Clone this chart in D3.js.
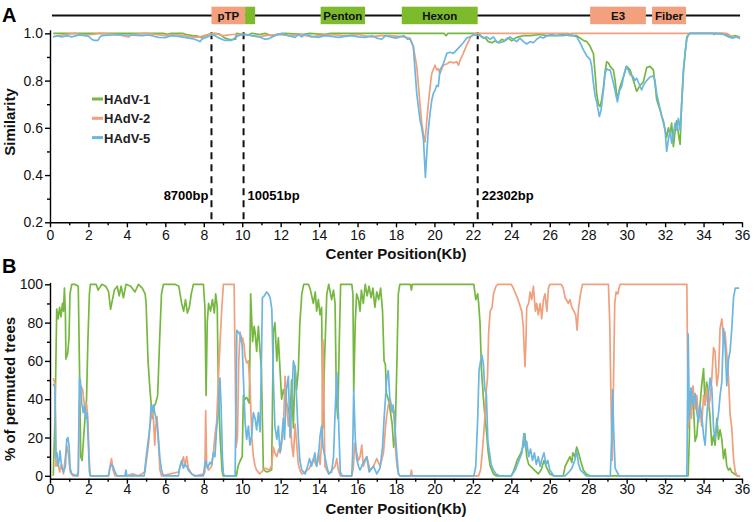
<!DOCTYPE html>
<html>
<head>
<meta charset="utf-8">
<script src="https://cdn.jsdelivr.net/npm/d3@7"></script>
<style>
  body { margin: 0; background: #fff; }
  svg text { font-family: "Liberation Sans", Arial, sans-serif; }
  .axis path, .axis line { stroke: #000; stroke-width: 1.4; }
  .axis text { font-size: 14px; fill: #111; }
</style>
</head>
<body>
<div id="chart"></div>
<script>
// ---- data ----
const seriesNames = ["HAdV-1", "HAdV-2", "HAdV-5"];

// genome map (kb)
const genomeSpan = [0.1, 35.9];
const geneLabels = ["pTP", "", "Penton", "Hexon", "E3", "Fiber"];
const geneStart = [8.4, 10.15, 14.08, 18.3, 28.1, 31.32];
const geneEnd = [10.15, 10.67, 16.39, 22.25, 31.0, 33.09];
const geneGroup = [1, 0, 0, 0, 1, 1]; // 0 = HAdV-1 like, 1 = HAdV-2 like

// breakpoints
const bpPos = [8.4, 10.07, 22.25];
const bpLabels = ["8700bp", "10051bp", "22302bp"];

const xTicks = d3.range(0, 37, 2);
const yTicksA = [0.2, 0.4, 0.6, 0.8, 1.0];
const yTicksB = [0, 20, 40, 60, 80, 100];

// panel A: similarity [kb, value]
const simH1 = [[0.17,1.0],[1.0,1.0],[2.0,1.0],[3.0,1.0],[4.0,1.0],[5.0,1.0],[5.9,1.0],[6.1,0.996],[6.3,1.0],[6.9,1.0],[7.1,0.995],[7.4,0.99],[7.7,0.988],[7.9,0.982],[8.1,0.99],[8.4,1.0],[8.8,0.998],[9.1,0.98],[9.4,0.973],[9.65,0.975],[9.7,1.0],[10.3,0.993],[10.5,1.0],[10.9,0.995],[11.2,1.0],[11.5,0.99],[11.8,0.996],[12.2,1.0],[13.2,0.996],[13.5,1.0],[14.3,0.996],[14.6,1.0],[16.0,1.0],[17.5,1.0],[18.5,1.0],[20.5,1.0],[20.6,0.99],[20.7,1.0],[22.3,1.0],[22.45,0.985],[22.65,0.98],[22.8,0.965],[23.0,0.96],[23.15,0.968],[23.33,0.96],[23.5,0.975],[23.67,0.968],[23.85,0.98],[24.02,0.968],[24.2,0.98],[24.37,0.985],[24.6,0.99],[25.0,0.99],[25.5,0.995],[25.85,0.99],[26.3,0.99],[26.7,0.995],[27.05,0.99],[27.4,0.99],[27.75,0.97],[27.92,0.965],[28.1,0.945],[28.18,0.93],[28.27,0.915],[28.36,0.83],[28.44,0.745],[28.53,0.70],[28.62,0.69],[28.7,0.72],[28.79,0.77],[28.88,0.84],[28.96,0.88],[29.05,0.875],[29.14,0.86],[29.31,0.845],[29.4,0.8],[29.49,0.73],[29.57,0.745],[29.66,0.775],[29.83,0.815],[30.0,0.86],[30.18,0.845],[30.35,0.8],[30.52,0.755],[30.7,0.78],[30.87,0.795],[31.04,0.855],[31.21,0.86],[31.39,0.845],[31.47,0.79],[31.56,0.72],[31.74,0.675],[31.82,0.65],[31.91,0.63],[32.0,0.59],[32.08,0.56],[32.17,0.6],[32.26,0.575],[32.34,0.62],[32.43,0.52],[32.52,0.585],[32.6,0.63],[32.69,0.575],[32.78,0.53],[32.86,0.7],[32.95,0.83],[33.04,0.915],[33.13,0.985],[33.3,1.0],[34.0,1.0],[35.0,1.0],[35.2,0.995],[35.4,0.985],[35.6,0.99],[35.9,0.985]];

const simH2 = [[0.17,0.985],[0.4,0.99],[0.8,0.995],[1.3,1.0],[1.6,0.993],[2.2,0.995],[2.6,1.0],[3.5,0.995],[4.07,0.985],[4.3,0.995],[5.0,1.0],[5.5,0.995],[6.0,0.99],[6.5,0.995],[7.0,0.99],[7.5,0.983],[7.8,0.985],[8.2,0.995],[8.6,1.0],[9.0,0.99],[9.5,0.995],[10.2,0.995],[10.8,0.985],[11.2,0.99],[11.8,0.995],[12.5,0.99],[13.0,0.995],[13.6,0.985],[14.0,0.99],[14.6,0.995],[15.3,0.99],[16.0,0.995],[16.7,0.985],[17.2,0.99],[17.7,0.99],[18.4,0.985],[18.73,0.98],[18.9,0.945],[19.08,0.86],[19.25,0.70],[19.34,0.62],[19.43,0.57],[19.51,0.54],[19.6,0.63],[19.68,0.70],[19.77,0.77],[19.86,0.83],[20.03,0.865],[20.12,0.845],[20.2,0.85],[20.29,0.83],[20.46,0.865],[20.64,0.87],[20.81,0.88],[20.99,0.875],[21.16,0.88],[21.25,0.865],[21.33,0.885],[21.5,0.915],[21.68,0.95],[21.85,0.98],[22.0,0.995],[22.2,1.0],[27.0,1.0],[27.02,0.99],[27.1,1.0],[35.2,1.0],[35.4,0.99],[35.6,0.985],[35.9,0.985]];

const simH5 = [[0.17,0.985],[0.35,0.99],[0.6,0.985],[0.9,0.99],[1.13,0.985],[1.5,0.993],[1.82,0.99],[2.0,0.988],[2.17,0.975],[2.3,0.97],[2.5,0.97],[2.6,0.985],[2.7,0.99],[3.2,0.993],[4.0,0.993],[4.8,0.99],[5.1,0.993],[5.3,0.99],[5.64,0.983],[6.0,0.982],[6.3,0.99],[6.68,0.987],[7.0,0.983],[7.37,0.978],[7.63,0.972],[7.8,0.965],[7.9,0.975],[8.06,0.98],[8.25,0.987],[8.41,0.993],[8.6,0.99],[8.75,0.982],[9.1,0.97],[9.45,0.97],[9.6,0.98],[9.8,0.99],[10.15,0.996],[10.5,0.99],[10.84,0.987],[11.19,0.975],[11.4,0.978],[11.7,0.99],[12.05,1.0],[12.4,0.99],[12.75,0.983],[12.92,0.995],[13.1,0.985],[13.27,0.997],[13.6,0.987],[13.96,0.983],[14.3,0.99],[14.65,0.987],[15.0,0.983],[15.35,0.987],[15.7,0.99],[16.04,0.985],[16.4,0.983],[16.74,0.99],[17.0,0.98],[17.26,0.975],[17.45,0.99],[17.7,0.985],[18.0,0.98],[18.2,0.985],[18.4,0.99],[18.6,0.975],[18.73,0.975],[18.9,0.945],[18.99,0.845],[19.08,0.745],[19.25,0.633],[19.34,0.6],[19.43,0.55],[19.53,0.39],[19.6,0.49],[19.68,0.59],[19.77,0.66],[19.86,0.717],[19.94,0.745],[20.03,0.76],[20.12,0.78],[20.2,0.775],[20.29,0.845],[20.46,0.87],[20.64,0.915],[20.81,0.92],[20.99,0.915],[21.16,0.93],[21.33,0.945],[21.5,0.96],[21.68,0.98],[21.85,0.985],[22.0,0.992],[22.2,0.992],[22.4,0.99],[22.55,0.98],[22.72,0.985],[22.9,0.975],[23.07,0.985],[23.24,0.965],[23.41,0.96],[23.59,0.965],[23.76,0.978],[23.93,0.985],[24.1,0.975],[24.28,0.965],[24.45,0.98],[24.63,0.965],[24.8,0.955],[24.98,0.965],[25.15,0.96],[25.32,0.975],[25.5,0.985],[25.67,0.98],[25.85,0.99],[26.1,0.995],[26.36,0.99],[26.7,0.99],[27.05,0.995],[27.4,0.985],[27.58,0.96],[27.75,0.93],[27.92,0.905],[28.1,0.89],[28.18,0.86],[28.27,0.79],[28.36,0.735],[28.44,0.71],[28.58,0.648],[28.67,0.675],[28.79,0.76],[28.88,0.83],[28.96,0.85],[29.05,0.845],[29.14,0.845],[29.22,0.82],[29.31,0.79],[29.45,0.735],[29.52,0.71],[29.62,0.755],[29.74,0.775],[29.83,0.815],[29.97,0.86],[30.09,0.845],[30.18,0.825],[30.35,0.815],[30.43,0.8],[30.52,0.81],[30.7,0.775],[30.78,0.76],[30.87,0.78],[31.04,0.8],[31.21,0.815],[31.39,0.82],[31.47,0.8],[31.56,0.745],[31.74,0.68],[31.91,0.62],[32.0,0.59],[32.08,0.5],[32.17,0.55],[32.26,0.59],[32.34,0.535],[32.43,0.575],[32.52,0.62],[32.6,0.59],[32.69,0.64],[32.78,0.59],[32.86,0.7],[32.95,0.845],[33.04,0.915],[33.13,0.975],[33.22,0.997],[33.3,1.0],[34.0,1.0],[34.5,1.0],[34.55,0.995],[34.6,1.0],[35.05,0.995],[35.3,0.985],[35.5,0.98],[35.7,0.985],[35.9,0.978]];

// panel B: % of permuted trees [kb, value]
const bootH1 = [[0.17,0],[0.26,30],[0.35,87],[0.42,82],[0.5,88],[0.57,83],[0.65,90],[0.7,86],[0.75,98],[0.8,85],[0.83,61],[0.92,64],[0.99,72],[1.04,95],[1.13,100],[1.3,100],[1.47,99],[1.53,60],[1.6,10],[1.67,8],[1.75,20],[1.82,30],[1.9,40],[1.97,70],[2.05,95],[2.1,100],[2.4,100],[2.5,97],[2.7,100],[2.9,99],[3.05,96],[3.15,87],[3.25,92],[3.35,97],[3.5,99],[3.6,94],[3.7,99],[3.82,93],[3.95,100],[4.2,99],[4.42,96],[4.6,100],[4.8,98],[4.95,95],[5.0,90],[5.1,60],[5.2,45],[5.26,38],[5.32,30],[5.4,36],[5.5,38],[5.6,42],[5.7,70],[5.8,95],[5.9,100],[6.5,100],[6.7,99],[6.85,90],[6.95,86],[7.05,92],[7.15,85],[7.25,88],[7.35,95],[7.46,100],[7.98,100],[8.06,88],[8.12,42],[8.18,80],[8.25,90],[8.35,86],[8.45,92],[8.55,85],[8.62,95],[8.7,88],[8.76,45],[8.85,20],[8.95,3],[9.0,0],[9.7,0],[9.78,5],[9.9,8],[10.0,10],[10.06,42],[10.15,40],[10.23,41],[10.37,38],[10.44,95],[10.54,70],[10.62,78],[10.67,75],[10.75,65],[10.84,78],[10.93,65],[11.0,55],[11.1,3],[11.3,2],[11.53,3],[11.62,75],[11.7,80],[11.8,60],[11.88,72],[11.97,55],[12.05,40],[12.14,45],[12.3,38],[12.4,35],[12.49,30],[12.57,50],[12.66,25],[12.75,57],[12.83,45],[12.92,55],[13.0,80],[13.1,95],[13.2,100],[13.45,100],[13.55,97],[13.7,90],[13.8,96],[13.87,86],[13.96,92],[14.05,84],[14.13,88],[14.2,25],[14.28,60],[14.4,95],[14.5,100],[14.65,92],[14.75,97],[14.83,90],[14.9,40],[14.97,30],[15.05,70],[15.12,100],[15.7,100],[15.76,95],[15.8,44],[15.88,80],[15.95,95],[16.05,92],[16.13,86],[16.2,97],[16.3,90],[16.4,100],[16.5,94],[16.6,99],[16.7,93],[16.8,98],[16.9,88],[17.0,96],[17.1,92],[17.2,98],[17.3,86],[17.38,60],[17.45,58],[17.5,43],[17.6,40],[17.7,34],[17.8,27],[17.88,15],[17.95,20],[18.05,60],[18.12,95],[18.2,100],[18.75,100],[18.8,97],[18.85,100],[22.05,100],[22.15,92],[22.25,95],[22.3,90],[22.37,80],[22.45,55],[22.55,40],[22.62,32],[22.7,24],[22.8,12],[22.9,5],[23.07,1],[23.2,0],[24.0,0],[24.1,2],[24.3,8],[24.5,12],[24.6,15],[24.7,22],[24.8,10],[24.9,6],[25.0,5],[25.2,3],[25.4,1],[25.55,3],[25.7,8],[25.85,4],[26.0,1],[26.2,0],[26.7,0],[26.8,5],[26.95,8],[27.05,10],[27.15,7],[27.2,12],[27.3,10],[27.4,15],[27.5,12],[27.6,8],[27.75,3],[27.9,1],[28.1,0],[33.2,0],[33.26,20],[33.3,44],[33.37,35],[33.45,42],[33.56,18],[33.65,21],[33.74,33],[33.82,37],[33.9,47],[34.0,56],[34.08,37],[34.16,49],[34.25,42],[34.34,30],[34.43,16],[34.52,21],[34.6,16],[34.69,30],[34.78,19],[34.86,24],[34.95,19],[35.04,9],[35.12,14],[35.21,5],[35.3,3],[35.38,4],[35.47,2],[35.6,1],[35.75,0],[35.9,0]];

const bootH2 = [[0.17,51],[0.26,48],[0.31,5],[0.4,8],[0.5,2],[0.6,6],[0.7,1],[0.87,16],[0.95,12],[1.05,2],[1.2,0],[1.47,0],[1.53,36],[1.6,47],[1.7,45],[1.75,40],[1.82,36],[1.9,38],[1.97,30],[2.03,10],[2.1,0],[3.05,0],[3.12,5],[3.2,9],[3.28,3],[3.38,0],[4.0,0],[4.3,1],[4.6,0],[4.94,2],[5.03,9],[5.12,16],[5.2,26],[5.3,35],[5.38,30],[5.45,16],[5.5,26],[5.57,31],[5.63,19],[5.72,3],[5.8,0],[6.68,2],[6.85,7],[6.94,10],[7.02,5],[7.11,10],[7.2,4],[7.37,1],[7.6,0],[8.0,1],[8.06,2],[8.1,34],[8.15,5],[8.25,3],[8.41,5],[8.5,12],[8.58,21],[8.67,28],[8.76,51],[8.84,68],[8.93,86],[9.02,100],[9.58,100],[9.63,60],[9.68,15],[9.75,20],[9.82,60],[9.89,75],[9.95,70],[10.02,72],[10.1,68],[10.15,62],[10.23,59],[10.32,60],[10.4,48],[10.5,20],[10.58,10],[10.67,5],[10.75,3],[10.9,1],[11.0,2],[11.2,4],[11.4,3],[11.53,5],[11.62,15],[11.7,12],[11.8,10],[11.9,14],[12.0,13],[12.14,24],[12.23,52],[12.3,40],[12.4,26],[12.49,34],[12.57,17],[12.66,10],[12.75,27],[12.83,17],[12.92,6],[13.0,3],[13.1,1],[13.27,2],[13.5,4],[13.7,9],[13.87,5],[13.96,12],[14.05,6],[14.15,20],[14.2,71],[14.25,40],[14.3,5],[14.5,1],[14.83,5],[14.92,9],[15.0,3],[15.1,0],[15.7,0],[15.78,4],[15.85,17],[15.95,12],[16.05,8],[16.13,10],[16.22,16],[16.3,5],[16.48,10],[16.65,3],[16.83,5],[17.0,9],[17.17,5],[17.35,12],[17.45,25],[17.5,30],[17.6,37],[17.7,40],[17.8,33],[17.9,34],[17.97,15],[18.05,5],[18.13,1],[18.2,0],[18.75,0],[18.8,3],[18.85,0],[22.3,0],[22.4,3],[22.47,10],[22.55,20],[22.62,30],[22.7,45],[22.76,51],[22.82,75],[22.9,86],[23.0,88],[23.07,95],[23.2,99],[23.3,100],[24.0,100],[24.1,98],[24.19,96],[24.35,92],[24.54,86],[24.62,78],[24.71,57],[24.76,70],[24.8,88],[24.9,90],[24.98,96],[25.06,92],[25.15,99],[25.25,86],[25.32,90],[25.4,84],[25.5,90],[25.58,82],[25.67,92],[25.75,95],[25.85,86],[25.93,98],[26.0,100],[26.6,100],[26.7,98],[26.8,93],[26.97,90],[27.05,92],[27.15,88],[27.25,86],[27.35,84],[27.42,76],[27.5,88],[27.6,95],[27.7,100],[29.05,100],[29.12,80],[29.2,30],[29.25,8],[29.3,40],[29.38,90],[29.45,96],[29.55,95],[29.6,98],[29.66,100],[33.13,100],[33.2,25],[33.3,37],[33.37,30],[33.45,47],[33.56,35],[33.65,42],[33.74,30],[33.82,35],[33.9,26],[34.0,42],[34.08,37],[34.16,46],[34.25,35],[34.34,40],[34.43,51],[34.52,67],[34.6,65],[34.69,47],[34.78,54],[34.86,77],[34.95,82],[35.04,72],[35.12,75],[35.21,63],[35.3,51],[35.38,32],[35.47,25],[35.56,9],[35.65,2],[35.75,0],[35.9,0]];

const bootH5 = [[0.17,48],[0.26,46],[0.31,10],[0.36,12],[0.42,5],[0.47,8],[0.52,13],[0.6,5],[0.7,2],[0.8,5],[0.87,19],[0.93,20],[0.99,16],[1.05,4],[1.13,1],[1.39,0],[1.47,2],[1.53,51],[1.58,50],[1.65,38],[1.73,33],[1.79,37],[1.86,30],[1.92,33],[2.0,16],[2.05,2],[2.1,0],[3.03,0],[3.12,4],[3.2,6],[3.28,5],[3.38,2],[3.5,0],[3.9,0],[3.95,3],[4.0,0],[4.9,0],[4.94,4],[5.03,12],[5.12,19],[5.2,26],[5.26,37],[5.32,34],[5.38,37],[5.45,33],[5.55,28],[5.63,21],[5.72,9],[5.8,3],[5.9,0],[6.68,0],[6.76,5],[6.85,8],[6.94,4],[7.02,6],[7.11,5],[7.2,3],[7.37,1],[7.5,0],[7.98,0],[8.04,5],[8.1,8],[8.2,4],[8.32,7],[8.41,6],[8.5,12],[8.58,10],[8.67,25],[8.76,33],[8.84,51],[8.9,37],[8.97,10],[9.02,1],[9.1,0],[9.63,0],[9.68,40],[9.72,76],[9.8,75],[9.93,73],[10.0,68],[10.06,51],[10.15,28],[10.23,19],[10.32,26],[10.4,16],[10.49,21],[10.58,33],[10.67,30],[10.75,24],[10.84,33],[10.93,23],[11.0,60],[11.05,93],[11.15,94],[11.27,96],[11.36,95],[11.45,93],[11.54,87],[11.62,51],[11.7,26],[11.8,19],[11.88,26],[11.97,12],[12.05,19],[12.14,30],[12.2,19],[12.3,45],[12.4,52],[12.49,20],[12.57,36],[12.66,60],[12.75,57],[12.83,40],[12.92,20],[13.0,8],[13.1,3],[13.2,2],[13.27,1],[13.4,5],[13.5,9],[13.6,5],[13.7,8],[13.78,12],[13.87,5],[13.96,9],[14.05,21],[14.13,26],[14.2,15],[14.3,10],[14.4,5],[14.5,1],[14.65,2],[14.75,10],[14.83,33],[14.92,54],[15.0,33],[15.1,2],[15.2,0],[15.7,0],[15.74,10],[15.8,45],[15.88,20],[15.95,9],[16.05,5],[16.13,3],[16.3,7],[16.48,10],[16.6,2],[16.83,5],[17.0,1],[17.17,4],[17.3,15],[17.38,30],[17.45,40],[17.52,51],[17.6,55],[17.68,40],[17.78,34],[17.85,37],[17.95,25],[18.05,10],[18.13,1],[18.2,0],[22.05,0],[22.15,5],[22.25,30],[22.32,55],[22.4,60],[22.47,63],[22.55,58],[22.62,45],[22.7,43],[22.78,18],[22.85,13],[22.95,6],[23.07,3],[23.2,1],[23.4,0],[24.0,0],[24.2,3],[24.4,8],[24.55,12],[24.65,22],[24.72,15],[24.8,18],[24.9,10],[25.0,14],[25.1,8],[25.2,12],[25.3,6],[25.4,10],[25.5,5],[25.6,9],[25.7,12],[25.8,6],[25.9,8],[26.0,3],[26.2,0],[26.8,0],[27.0,2],[27.15,4],[27.3,8],[27.4,13],[27.5,6],[27.6,3],[27.8,1],[27.9,0],[29.15,0],[29.22,20],[29.27,45],[29.32,25],[29.4,4],[29.5,2],[29.6,0],[33.13,0],[33.2,74],[33.26,30],[33.35,46],[33.45,37],[33.56,43],[33.65,33],[33.74,28],[33.82,37],[33.9,32],[34.0,21],[34.08,16],[34.16,30],[34.25,42],[34.34,51],[34.43,46],[34.52,25],[34.6,19],[34.69,26],[34.78,33],[34.86,42],[34.95,49],[35.04,77],[35.12,68],[35.21,47],[35.3,61],[35.38,65],[35.47,77],[35.56,93],[35.65,98],[35.75,98],[35.85,98]];

// ---- drawing ----
const colors = ["#76b83f", "#f0a07c", "#6cb6e2"];
const boxColors = ["#7dbb2c", "#f2a07e"];

const svg = d3.select("#chart").append("svg")
    .attr("width", 754)
    .attr("height", 522);

const x = d3.scaleLinear().domain([0, 36]).range([50, 742]);
const yA = d3.scaleLinear().domain([0.2, 1.015]).range([222.3, 29.8]);
const yB = d3.scaleLinear().domain([-1.5, 101]).range([478.7, 282.4]);

const oddTicks = d3.range(1, 36, 2);

function drawAxes(y, majors, minors, fmt, xPad) {
    const xAxis = svg.append("g")
        .attr("class", "axis")
        .attr("transform", "translate(0," + y.range()[0] + ")");
    xAxis.call(d3.axisBottom(x).tickValues(xTicks).tickSize(5).tickSizeOuter(0)
        .tickPadding(xPad).tickFormat(d3.format("d")));
    xAxis.append("g").call(d3.axisBottom(x).tickValues(oddTicks).tickSize(3).tickFormat(""))
        .select(".domain").remove();

    const yAxis = svg.append("g")
        .attr("class", "axis")
        .attr("transform", "translate(" + x(0) + ",0)");
    yAxis.call(d3.axisLeft(y).tickValues(majors).tickSize(5).tickSizeOuter(0).tickPadding(2).tickFormat(fmt));
    yAxis.append("g").call(d3.axisLeft(y).tickValues(minors).tickSize(3).tickFormat(""))
        .select(".domain").remove();
}

drawAxes(yA, yTicksA, [0.3, 0.5, 0.7, 0.9], d3.format(".1f"), 3);
drawAxes(yB, yTicksB, [10, 30, 50, 70, 90], d3.format("d"), 0);

// genome map
const mapY = 15.5;
svg.append("line")
    .attr("x1", x(genomeSpan[0])).attr("x2", x(genomeSpan[1]))
    .attr("y1", mapY).attr("y2", mapY)
    .attr("stroke", "#111").attr("stroke-width", 2);

const genes = geneLabels.map((g, i) => ({ label: g, s: geneStart[i], e: geneEnd[i], grp: geneGroup[i] }));
svg.selectAll("rect.gene").data(genes).enter().append("rect")
    .attr("class", "gene")
    .attr("x", d => x(d.s))
    .attr("width", d => x(d.e) - x(d.s))
    .attr("y", mapY - 8.8)
    .attr("height", 17.5)
    .attr("fill", d => boxColors[d.grp]);
svg.selectAll("text.gene").data(genes.filter(d => d.label)).enter().append("text")
    .attr("class", "gene")
    .attr("x", d => (x(d.s) + x(d.e)) / 2)
    .attr("y", mapY + 4)
    .attr("text-anchor", "middle")
    .attr("font-size", 11.5)
    .attr("font-weight", "bold")
    .attr("fill", "#111")
    .text(d => d.label);

// breakpoints
bpPos.forEach((p, i) => {
    svg.append("line")
        .attr("x1", x(p)).attr("x2", x(p))
        .attr("y1", yA(1.0) - 1).attr("y2", yA(0.2))
        .attr("stroke", "#111").attr("stroke-width", 2)
        .attr("stroke-dasharray", "7,5");
    svg.append("text")
        .attr("x", i === 0 ? x(p) - 3 : x(p) + 4)
        .attr("y", 200)
        .attr("text-anchor", i === 0 ? "end" : "start")
        .attr("font-size", 13)
        .attr("font-weight", "bold")
        .text(bpLabels[i]);
});

// lines
const lineA = d3.line().x(d => x(d[0])).y(d => yA(d[1]));
const lineB = d3.line().x(d => x(d[0])).y(d => yB(d[1]));

[simH1, simH2, simH5].forEach((s, i) => {
    svg.append("path").datum(s)
        .attr("fill", "none")
        .attr("stroke", colors[i])
        .attr("stroke-width", 1.7)
        .attr("stroke-linejoin", "round")
        .attr("d", lineA);
});
[bootH1, bootH2, bootH5].forEach((s, i) => {
    svg.append("path").datum(s)
        .attr("fill", "none")
        .attr("stroke", colors[i])
        .attr("stroke-width", 1.7)
        .attr("stroke-linejoin", "round")
        .attr("d", lineB);
});

// legend
const legend = svg.append("g").attr("transform", "translate(92,99)");
seriesNames.forEach((n, i) => {
    legend.append("line")
        .attr("x1", 0).attr("x2", 11)
        .attr("y1", i * 19.3).attr("y2", i * 19.3)
        .attr("stroke", colors[i]).attr("stroke-width", 3);
    legend.append("text")
        .attr("x", 12).attr("y", i * 19.3 + 5)
        .attr("font-size", 13)
        .attr("font-weight", "bold")
        .attr("fill", "#222")
        .text(n);
});

// titles
function title(txt, tx, ty, rot, size) {
    svg.append("text")
        .attr("transform", "translate(" + tx + "," + ty + ")" + (rot ? " rotate(-90)" : ""))
        .attr("text-anchor", "middle")
        .attr("font-size", size)
        .attr("font-weight", "bold")
        .attr("fill", "#111")
        .text(txt);
}
title("Similarity", 15, 122, true, 15);
title("% of permuted trees", 15, 389, true, 15);
title("Center Position(Kb)", 396, 259, false, 15);
title("Center Position(Kb)", 396, 514, false, 15);

svg.append("text").attr("x", 2).attr("y", 22)
    .attr("font-size", 20).attr("font-weight", "bold").text("A");
svg.append("text").attr("x", 2).attr("y", 273)
    .attr("font-size", 20).attr("font-weight", "bold").text("B");
</script>
</body>
</html>
